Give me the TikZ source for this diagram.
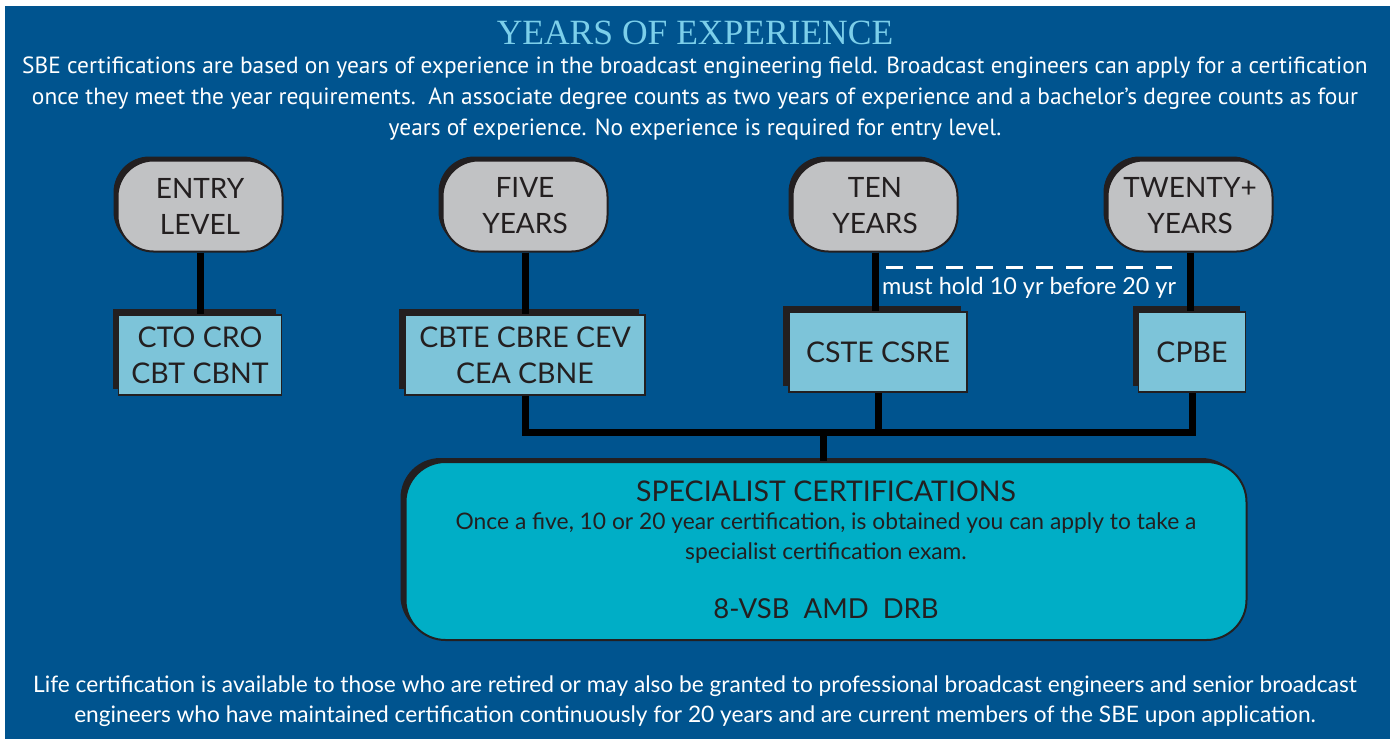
\documentclass[tikz,border=0pt]{standalone}
\usepackage{fontspec}
\setmainfont{Lato}
\newfontfamily\introfont{PT Sans}
\newfontfamily\titlefont{Liberation Serif}
\usepackage{tikz}
\usetikzlibrary{shadows}

\definecolor{sbeblue}{HTML}{00548F}
\definecolor{titleblue}{HTML}{7CCFEA}
\definecolor{pillgray}{HTML}{C1C2C4}
\definecolor{boxblue}{HTML}{7DC4D9}
\definecolor{specblue}{HTML}{00AEC6}
\definecolor{inkdark}{HTML}{231F20}

\tikzset{
	yearpill/.style={draw=inkdark, line width=2pt, fill=pillgray, rounded corners=36pt,
		minimum width=165pt, minimum height=91pt, align=center, text=inkdark,
		font=\fontsize{28}{36}\selectfont,
		drop shadow={shadow xshift=-4pt, shadow yshift=4pt, opacity=1, fill=inkdark}},
	certbox/.style={draw=inkdark, line width=1.5pt, fill=boxblue,
		minimum height=80pt, align=center, text=inkdark,
		font=\fontsize{28.5}{36}\selectfont,
		drop shadow={shadow xshift=-6pt, shadow yshift=6pt, opacity=1, fill=inkdark}},
	link/.style={draw=black, line width=7pt, line join=miter},
	whitetext/.style={text=white, align=center},
}

\begin{document}
\begin{tikzpicture}[x=1pt, y=-1pt]
	\useasboundingbox (0,0) rectangle (1390,739);
	\fill[white] (0,0) rectangle (1390,739);
	\fill[sbeblue] (5,6) rectangle (1390,739);

	% heading and intro
	\node[text=titleblue, font=\titlefont\fontsize{35.5}{35.5}\selectfont] (title) at (695,33) {YEARS OF EXPERIENCE};
	\node[whitetext, font=\introfont\fontsize{23.4}{31}\selectfont] (intro) at (695,99)
		{SBE certifications are based on years of experience in the broadcast engineering field. Broadcast engineers can apply for a certification\\
		once they meet the year requirements.\ \ An associate degree counts as two years of experience and a bachelor’s degree counts as four\\
		years of experience. No experience is required for entry level.};

	% year levels
	\node[yearpill] (p0) at (200,206) {ENTRY\\LEVEL};
	\node[yearpill] (p5) at (525,206) {FIVE\\YEARS};
	\node[yearpill] (p10) at (875,206) {TEN\\YEARS};
	\node[yearpill] (p20) at (1190,206) {TWENTY+\\YEARS};

	% certifications
	\node[certbox, minimum width=163pt] (b0) at (200,355) {CTO CRO\\CBT CBNT};
	\node[certbox, minimum width=240pt] (b5) at (525,355) {CBTE CBRE CEV\\CEA CBNE};
	\node[certbox, minimum width=178pt] (b10) at (878,352) {CSTE CSRE};
	\node[certbox, minimum width=107pt] (b20) at (1192,352) {CPBE};

	% specialist
	\node[draw=inkdark, line width=2pt, fill=specblue, rounded corners=40pt,
		minimum width=841pt, minimum height=178pt,
		drop shadow={shadow xshift=-5pt, shadow yshift=4pt, opacity=1, fill=inkdark}] (spec) at (826,551) {};
	\node[text=inkdark, font=\fontsize{28.5}{30}\selectfont] (spechead) at (826,491) {SPECIALIST CERTIFICATIONS};
	\node[text=inkdark, align=center, font=\fontsize{22.8}{30}\selectfont] (specnote) at (826,538)
		{Once a five, 10 or 20 year certification, is obtained you can apply to take a\\specialist certification exam.};
	\node[text=inkdark, font=\fontsize{27.5}{30}\selectfont] (speccodes) at (826,609) {8-VSB\ \ AMD\ \ DRB};

	% links
	\draw[link] (p0.south) -- (p0.south |- b0.north);
	\draw[link] (p5.south) -- (p5.south |- b5.north);
	\draw[link] (p10.south) -- (p10.south |- b10.north);
	\draw[link] (p20.south) -- (p20.south |- b20.north);
	\coordinate (bus) at (823,432);
	\draw[link] (b5.south) |- (bus) -| (b20.south);
	\draw[link] (b10.south) -- (b10.south |- bus);
	\draw[link] (bus) -- (bus |- spec.north);

	% ten before twenty
	\coordinate (holdL) at (886,267);
	\coordinate (holdR) at (1172,267);
	\draw[white, line width=3pt, dash pattern=on 17pt off 13pt] (holdL) -- (holdR);
	\node[text=white, font=\fontsize{23.4}{23.4}\selectfont] (holdnote) at (1029,288) {must hold 10 yr before 20 yr};

	% footer
	\node[whitetext, font=\fontsize{22.7}{30}\selectfont] (life) at (695,701)
		{Life certification is available to those who are retired or may also be granted to professional broadcast engineers and senior broadcast\\
		engineers who have maintained certification continuously for 20 years and are current members of the SBE upon application.};
\end{tikzpicture}
\end{document}
